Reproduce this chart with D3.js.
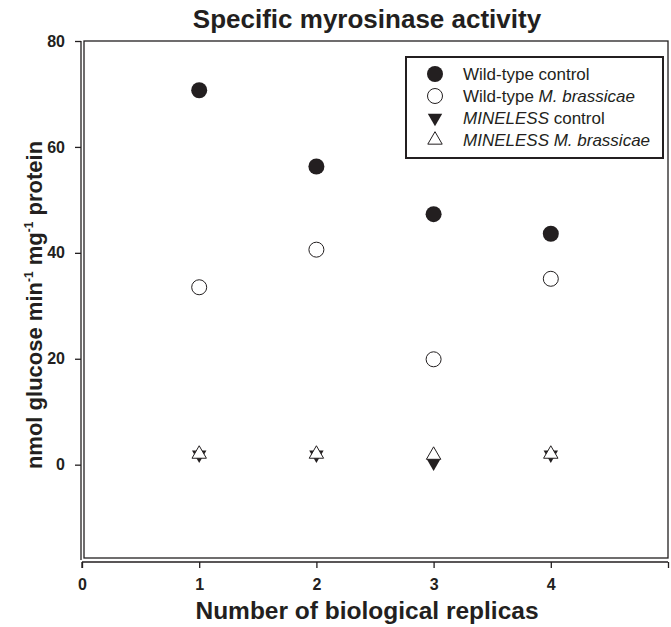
<!DOCTYPE html>
<html>
<head>
<meta charset="utf-8">
<script src="https://cdn.jsdelivr.net/npm/d3@7"></script>
<style>
  body { margin: 0; background: #fff; }
  text { font-family: Arial, "Liberation Sans", sans-serif; fill: #231f20; }
</style>
</head>
<body>
<svg id="chart" width="671" height="627"></svg>
<script>
'use strict'

// replicas on the x axis
let replicas = [1, 2, 3, 4];
let wtControl = [70.7, 56.3, 47.3, 43.6];
let wtBrassicae = [33.5, 40.6, 19.9, 35.1];
let mlControl = [1.9, 1.9, 0.4, 1.9];
let mlBrassicae = [2.0, 2.0, 1.8, 2.0];
let xTicks = [0, 1, 2, 3, 4, 5];
let yTicks = [0, 20, 40, 60, 80];
let legendNames = [
  [{t: 'Wild-type control', i: false}],
  [{t: 'Wild-type ', i: false}, {t: 'M. brassicae', i: true}],
  [{t: 'MINELESS', i: true}, {t: ' control', i: false}],
  [{t: 'MINELESS M. brassicae', i: true}]
];

var svg = d3.select('#chart');
var ink = '#231f20';

var x = d3.scaleLinear().domain([0, 5]).range([82, 668]);
var y = d3.scaleLinear().domain([-18, 80]).range([560, 41]);

// frame
svg.append('rect')
  .attr('x', x(0) + 2).attr('y', y(80))
  .attr('width', x(5) - x(0) - 2).attr('height', y(-18) - y(80) - 2)
  .attr('fill', 'none').attr('stroke', ink).attr('stroke-width', 1.3);

var xAxis = svg.append('g')
  .attr('transform', 'translate(0,' + (y(-18) + 2) + ')')
  .call(d3.axisBottom(x).tickValues(xTicks).tickSize(6).tickPadding(11)
    .tickFormat(function(d) { return d === 5 ? '' : d; }));
var yAxis = svg.append('g')
  .attr('transform', 'translate(' + (x(0) - 1) + ',0)')
  .call(d3.axisLeft(y).tickValues(yTicks).tickSize(6).tickPadding(10));

[xAxis, yAxis].forEach(function(a) {
  a.select('.domain').attr('stroke', ink).attr('stroke-width', 1.3);
  a.selectAll('.tick line').attr('stroke', ink).attr('stroke-width', 1.3);
  a.selectAll('.tick text').attr('font-size', 16).attr('font-weight', 'bold')
    .attr('font-family', 'Arial, "Liberation Sans", sans-serif').attr('fill', ink);
});
xAxis.select('.domain').attr('d', 'M' + x(0) + ',0V6M' + x(0) + ',0H' + x(5));
yAxis.select('.domain').attr('d', 'M0,' + y(80) + 'V' + y(-18));

// titles
svg.append('text').attr('x', 367).attr('y', 28).attr('text-anchor', 'middle')
  .attr('font-size', 26).attr('font-weight', 'bold').text('Specific myrosinase activity');
svg.append('text').attr('x', 367).attr('y', 619).attr('text-anchor', 'middle')
  .attr('font-size', 24.5).attr('font-weight', 'bold').text('Number of biological replicas');

var yl = svg.append('text').attr('transform', 'translate(42,' + 305 + ') rotate(-90)')
  .attr('text-anchor', 'middle').attr('font-size', 22).attr('font-weight', 'bold');
yl.append('tspan').text('nmol glucose min');
yl.append('tspan').attr('font-size', 12).attr('dy', -9).text('-1');
yl.append('tspan').attr('dy', 9).text(' mg');
yl.append('tspan').attr('font-size', 12).attr('dy', -9).text('-1');
yl.append('tspan').attr('dy', 9).text(' protein');

// markers
var tri = d3.symbol().type(d3.symbolTriangle).size(90);

function pts(vals) {
  return replicas.map(function(r, i) { return {x: r, y: vals[i]}; });
}

function drawSeries(g, kind) {
  if (kind === 'fill') {
    g.append('circle').attr('r', 8).attr('fill', ink);
  } else if (kind === 'open') {
    g.append('circle').attr('r', 7.5).attr('fill', '#fff').attr('stroke', ink).attr('stroke-width', 1);
  } else if (kind === 'down') {
    g.append('path').attr('d', tri).attr('transform', 'rotate(180)').attr('fill', ink);
  } else {
    g.append('path').attr('d', tri).attr('fill', '#fff').attr('stroke', ink).attr('stroke-width', 1);
  }
}

var series = [
  {vals: wtControl, kind: 'fill'},
  {vals: wtBrassicae, kind: 'open'},
  {vals: mlControl, kind: 'down'},
  {vals: mlBrassicae, kind: 'up'}
];

series.forEach(function(s) {
  svg.append('g').selectAll('g').data(pts(s.vals)).enter().append('g')
    .attr('transform', function(d) { return 'translate(' + x(d.x) + ',' + y(d.y) + ')'; })
    .each(function() { drawSeries(d3.select(this), s.kind); });
});

// legend
var lg = svg.append('g').attr('transform', 'translate(406,57)');
lg.append('rect').attr('width', 257).attr('height', 101)
  .attr('fill', '#fff').attr('stroke', ink).attr('stroke-width', 2);
series.forEach(function(s, i) {
  var row = lg.append('g').attr('transform', 'translate(29,' + (17 + i * 22) + ')');
  drawSeries(row, s.kind);
  var t = row.append('text').attr('x', 28).attr('y', 6).attr('font-size', 17);
  legendNames[i].forEach(function(p) {
    t.append('tspan').attr('font-style', p.i ? 'italic' : 'normal').text(p.t);
  });
});
</script>
</body>
</html>
